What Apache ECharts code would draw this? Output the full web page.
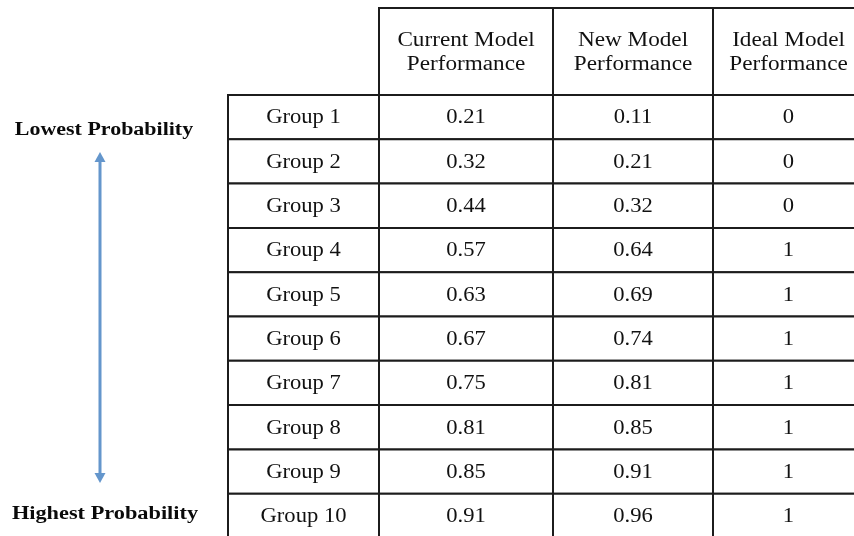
<!DOCTYPE html>
<html>
<head>
<meta charset="utf-8">
<script src="https://cdn.jsdelivr.net/npm/echarts@6/dist/echarts.min.js"></script>
<style>html,body{margin:0;padding:0;background:#fff;}#chart{width:854px;height:536px;}</style>
</head>
<body>
<div id="chart"></div>
<script>
// ---- data ----
const groups = ['Group 1','Group 2','Group 3','Group 4','Group 5','Group 6','Group 7','Group 8','Group 9','Group 10'];
const currentModel = [0.21,0.32,0.44,0.57,0.63,0.67,0.75,0.81,0.85,0.91];
const newModel = [0.11,0.21,0.32,0.64,0.69,0.74,0.81,0.85,0.91,0.96];
const idealModel = [0,0,0,1,1,1,1,1,1,1];
const columnHeaders = ['Current Model\nPerformance','New Model\nPerformance','Ideal Model\nPerformance'];
const sideLabels = ['Lowest Probability','Highest Probability'];

// ---- layout (column edges in axis units) ----
const colEdges = [0, 151, 325, 485, 636];
const FONT = '"Liberation Serif","Times New Roman",serif';
const columns = [groups, currentModel, newModel, idealModel];

function cellText(col, row) { return String(columns[col][row]); }

function makeRender(getText, sx, dy) {
  return function (params, api) {
    const col = api.value(0), row = api.value(1);
    const p0 = api.coord([colEdges[col], row]);
    const p1 = api.coord([colEdges[col + 1], row]);
    const h = api.size([0, 1])[1];
    const x0 = p0[0], x1 = p1[0], yc = p0[1];
    return {
      type: 'group',
      children: [
        { type: 'rect', shape: { x: x0, y: yc - h / 2, width: x1 - x0, height: h },
          style: { fill: '#fff', stroke: '#1c1c1c', lineWidth: 2 } },
        { type: 'text', x: (x0 + x1) / 2, y: yc + dy, scaleX: sx,
          style: { text: getText(col, row), align: 'center', verticalAlign: 'middle',
                   font: '20px ' + FONT, fill: '#111', lineHeight: 24 } }
      ]
    };
  };
}

const bodyData = [];
groups.forEach((g, r) => { for (let c = 0; c < 4; c++) bodyData.push([c, r]); });
const headerData = columnHeaders.map((h, i) => [i + 1, 0]);

const hiddenAxis = { axisLine: { show: false }, axisTick: { show: false }, axisLabel: { show: false }, splitLine: { show: false } };

const chart = echarts.init(document.getElementById('chart'), null, { renderer: 'canvas' });
chart.setOption({
  backgroundColor: '#fff',
  animation: false,
  grid: [
    { left: 228, width: 636, top: 8, height: 87, outerBoundsMode: 'none', containLabel: false },
    { left: 228, width: 636, top: 95, height: 443, outerBoundsMode: 'none', containLabel: false }
  ],
  xAxis: [
    Object.assign({ type: 'value', gridIndex: 0, min: 0, max: colEdges[4] }, hiddenAxis),
    Object.assign({ type: 'value', gridIndex: 1, min: 0, max: colEdges[4] }, hiddenAxis)
  ],
  yAxis: [
    Object.assign({ type: 'category', gridIndex: 0, data: ['header'] }, hiddenAxis),
    Object.assign({ type: 'category', gridIndex: 1, data: groups, inverse: true }, hiddenAxis)
  ],
  series: [
    { type: 'custom', xAxisIndex: 0, yAxisIndex: 0, data: headerData,
      renderItem: makeRender((c) => columnHeaders[c - 1], 1.16, 1) },
    { type: 'custom', xAxisIndex: 1, yAxisIndex: 1, data: bodyData,
      renderItem: makeRender(cellText, 1.13, 1) }
  ],
  graphic: [
    { type: 'text', x: 104, y: 130, scaleX: 1.22,
      style: { text: sideLabels[0], align: 'center', verticalAlign: 'middle', font: 'bold 18px ' + FONT, fill: '#0a0a0a' } },
    { type: 'text', x: 105, y: 514, scaleX: 1.24,
      style: { text: sideLabels[1], align: 'center', verticalAlign: 'middle', font: 'bold 18px ' + FONT, fill: '#0a0a0a' } },
    { type: 'line', shape: { x1: 100, y1: 160, x2: 100, y2: 475 }, style: { stroke: '#6496cc', lineWidth: 3 } },
    { type: 'polygon', shape: { points: [[100, 152], [94.5, 162], [105.5, 162]] }, style: { fill: '#6496cc' } },
    { type: 'polygon', shape: { points: [[100, 483], [94.5, 473], [105.5, 473]] }, style: { fill: '#6496cc' } }
  ]
});
</script>
</body>
</html>
